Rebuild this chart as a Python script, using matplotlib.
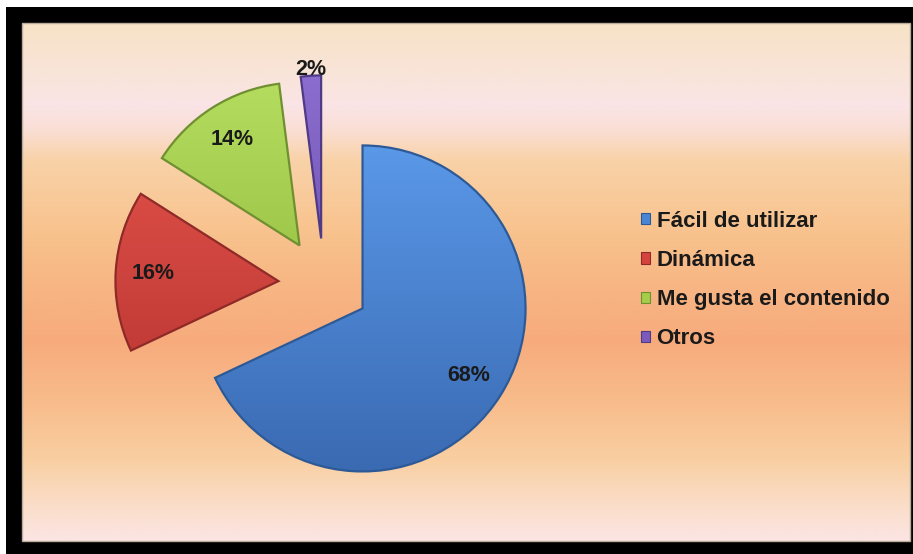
import matplotlib.pyplot as plt
import numpy as np
from matplotlib.colors import LinearSegmentedColormap, to_rgb
from matplotlib.patches import Rectangle, Patch

labels = ['Fácil de utilizar', 'Dinámica', 'Me gusta el contenido', 'Otros']
values = [68, 16, 14, 2]
colors = ['#4a85d4', '#d5433e', '#a3cd4a', '#7a5bbd']
light = ['#5a98e8', '#e4534c', '#b4dc5e', '#8b6dcf']
dark = ['#3a6ab2', '#b5322e', '#8bb438', '#6346a2']
edges = ['#2d5a96', '#8e2a27', '#6f8f31', '#4f3a86']

# background stops: (pixel row from top, colour)
bg_rows = [23, 70, 105, 128, 160, 230, 290, 340, 400, 460, 510, 541]
bg_cols = ['#f7e3c6', '#f9e4d8', '#fbe4e6', '#fadfd6', '#f9d2a8', '#f8c38e',
           '#f7b583', '#f7ab7d', '#f8bb8a', '#f9cfa2', '#fbdfcc', '#fbe5e4']

W, H = 913, 554
font = ['Liberation Sans', 'DejaVu Sans']

fig = plt.figure(figsize=(W / 100, H / 100), dpi=100)
ax = fig.add_axes([0, 0, 1, 1])

# black frame and gradient panel
ax.add_patch(Rectangle((6, 0), W - 6, 547, facecolor='black', zorder=0))
rows = np.arange(bg_rows[0], bg_rows[-1] + 1)
rgb = np.array([to_rgb(c) for c in bg_cols])
grad = np.stack([np.interp(rows, bg_rows, rgb[:, k]) for k in range(3)], axis=-1)
ax.imshow(grad[:, None, :], extent=[22, 910, H - 541, H - 23], origin='upper',
          aspect='auto', zorder=0.5)
ax.add_patch(Rectangle((22, H - 541), 888, 518, facecolor='none',
                       edgecolor='#b9ab9c', linewidth=1, zorder=0.6))

radius = 163
wedges, texts, autotexts = ax.pie(
    values, colors=colors, startangle=90, counterclock=False,
    explode=[0.28 * radius] * 4, center=(324, H - 284), radius=radius,
    autopct='%1.0f%%', pctdistance=0.77,
    wedgeprops=dict(linewidth=1.6),
    textprops=dict(family=font, weight='bold', size=15.5, color='#1a1a1a'))

# shaded fill for each slice, clipped to its wedge
ramp = np.linspace(0, 1, 256).reshape(-1, 1)
for i, w in enumerate(wedges):
    cx, cy = w.center
    r = w.r
    cmap = LinearSegmentedColormap.from_list('s%d' % i, [light[i], dark[i]])
    im = ax.imshow(ramp, cmap=cmap, extent=[cx - r, cx + r, cy - r, cy + r],
                   origin='upper', aspect='auto', zorder=1)
    im.set_clip_path(w)
    w.set_facecolor('none')
    w.set_edgecolor(edges[i])
    w.set_zorder(2)

for t in autotexts:
    t.set_zorder(3)

# small slice gets its label outside
w, t = wedges[3], autotexts[3]
mid = np.deg2rad((w.theta1 + w.theta2) / 2)
t.set_position((w.center[0] + 1.04 * w.r * np.cos(mid),
                w.center[1] + 1.04 * w.r * np.sin(mid)))

handles = [Patch(facecolor=c, edgecolor=e, linewidth=0.8) for c, e in zip(colors, edges)]
ax.legend(handles, labels, loc='center left', bbox_to_anchor=(641 / W, (H - 280) / H),
          frameon=False, handlelength=0.4, handleheight=0.4, handletextpad=0.3,
          labelspacing=0.82, borderaxespad=0, borderpad=0, labelcolor='#1a1a1a',
          prop=dict(family=font, weight='bold', size=16))

ax.set_xlim(0, W)
ax.set_ylim(0, H)
ax.set_aspect('auto')
ax.axis('off')

fig.savefig('out.png', dpi=100, facecolor='white')
